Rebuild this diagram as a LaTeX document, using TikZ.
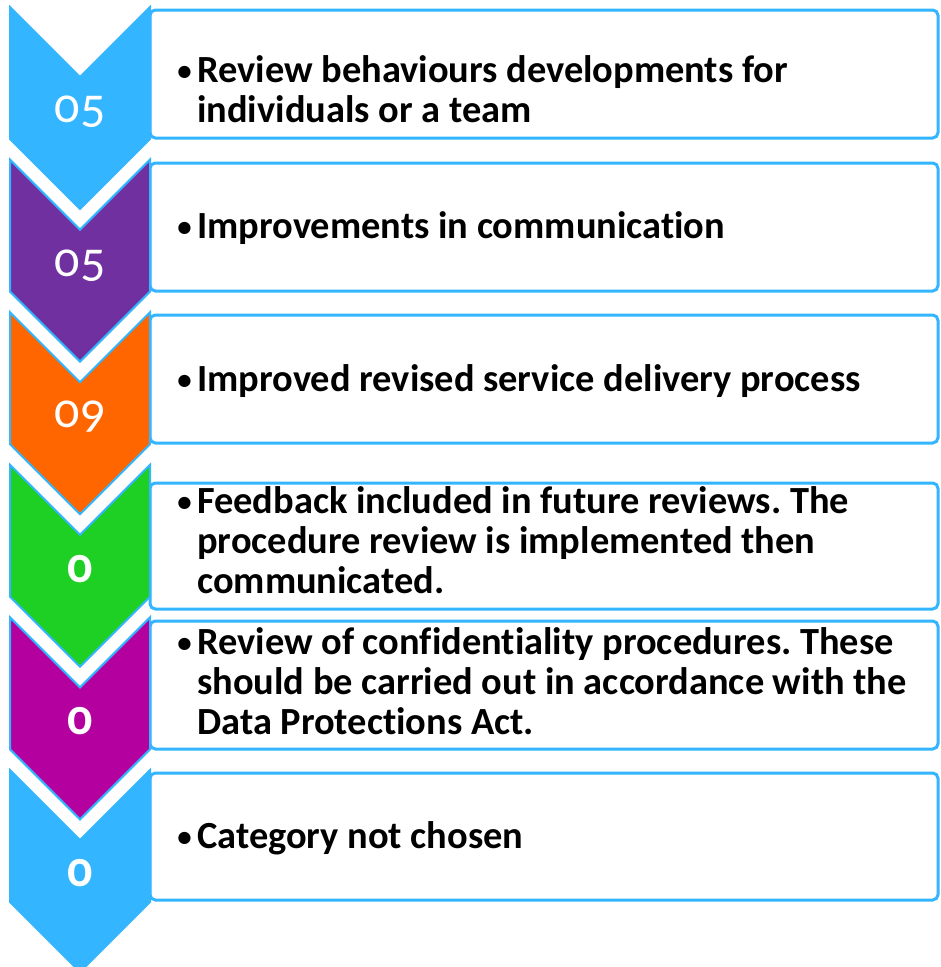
\documentclass[tikz,border=0pt]{standalone}
\usepackage{fontspec}
\setmainfont{Carlito}[Ligatures=NoCommon]
\newfontfamily\numfont[Numbers=OldStyle]{Carlito}
\definecolor{lblue}{HTML}{33B5FF}
\definecolor{cpurple}{HTML}{7030A0}
\definecolor{corange}{HTML}{FF6600}
\definecolor{cgreen}{HTML}{1ED024}
\definecolor{cmagenta}{HTML}{B4009E}
\newdimen\pxu \pxu=0.75pt
\frenchspacing
\newcommand\bul{\makebox[21\pxu][l]{\hspace*{1\pxu}\raisebox{1.5\pxu}{\scalebox{0.75}{•}}}}
\newcommand\ind{\hspace*{21\pxu}}
\tikzset{
  box/.style={draw=lblue, line width=2.25pt, fill=white, rounded corners=4pt},
  chev/.style={draw=lblue, line width=1.5pt, line join=miter},
  num/.style={text=white, anchor=base, inner sep=0pt, font=\numfont\fontsize{37.5}{40}\selectfont},
  numb/.style={num, font=\numfont\bfseries\fontsize{37.5}{40}\selectfont},
  txt/.style={anchor=base west, inner sep=0pt, align=left, font=\bfseries\fontsize{28.8}{30}\selectfont}
}
\newcommand\chevron[2]{%
  \filldraw[chev, fill=#2] (10,#1) -- (80,#1+70) -- (150,#1) -- (150,#1+132) -- (80,#1+202) -- (10,#1+132) -- cycle;}
\begin{document}
\begin{tikzpicture}[x=0.75pt,y=-0.75pt]
\useasboundingbox (0,0) rectangle (940,967);
% boxes
\draw[box] (150,10) rectangle (938,138);
\draw[box] (150,163) rectangle (938,291);
\draw[box] (150,315) rectangle (938,443);
\draw[box] (150,483) rectangle (938,609);
\draw[box] (150,621) rectangle (938,749);
\draw[box] (150,773) rectangle (938,900);
% chevrons
\chevron{7}{lblue}
\chevron{159.6}{cpurple}
\chevron{312.2}{corange}
\chevron{464.8}{cgreen}
\chevron{617.4}{cmagenta}
\chevron{770}{lblue}
% numbers
\node[num] (n1) at (80,122) {05};
\node[num] (n2) at (80,276) {05};
\node[num] (n3) at (80,427) {09};
\node[numb] (n4) at (80,582) {0};
\node[numb] (n5) at (80,734) {0};
\node[numb] (n6) at (80,886) {0};
% texts (anchor at baseline of the last line)
\node[txt] (t1) at (176,122) {\bul Review behaviours developments for\\\ind individuals or a team};
\node[txt] (t2) at (176,238) {\bul Improvements in communication};
\node[txt] (t3) at (176,391) {\bul Improved revised service delivery process};
\node[txt] (t4) at (176,593) {\bul Feedback included in future reviews. The\\\ind procedure review is implemented then\\\ind communicated.};
\node[txt] (t5) at (176,734) {\bul Review of confidentiality procedures. These\\\ind should be carried out in accordance with the\\\ind Data Protections Act.};
\node[txt] (t6) at (176,848) {\bul Category not chosen};
\end{tikzpicture}
\end{document}
